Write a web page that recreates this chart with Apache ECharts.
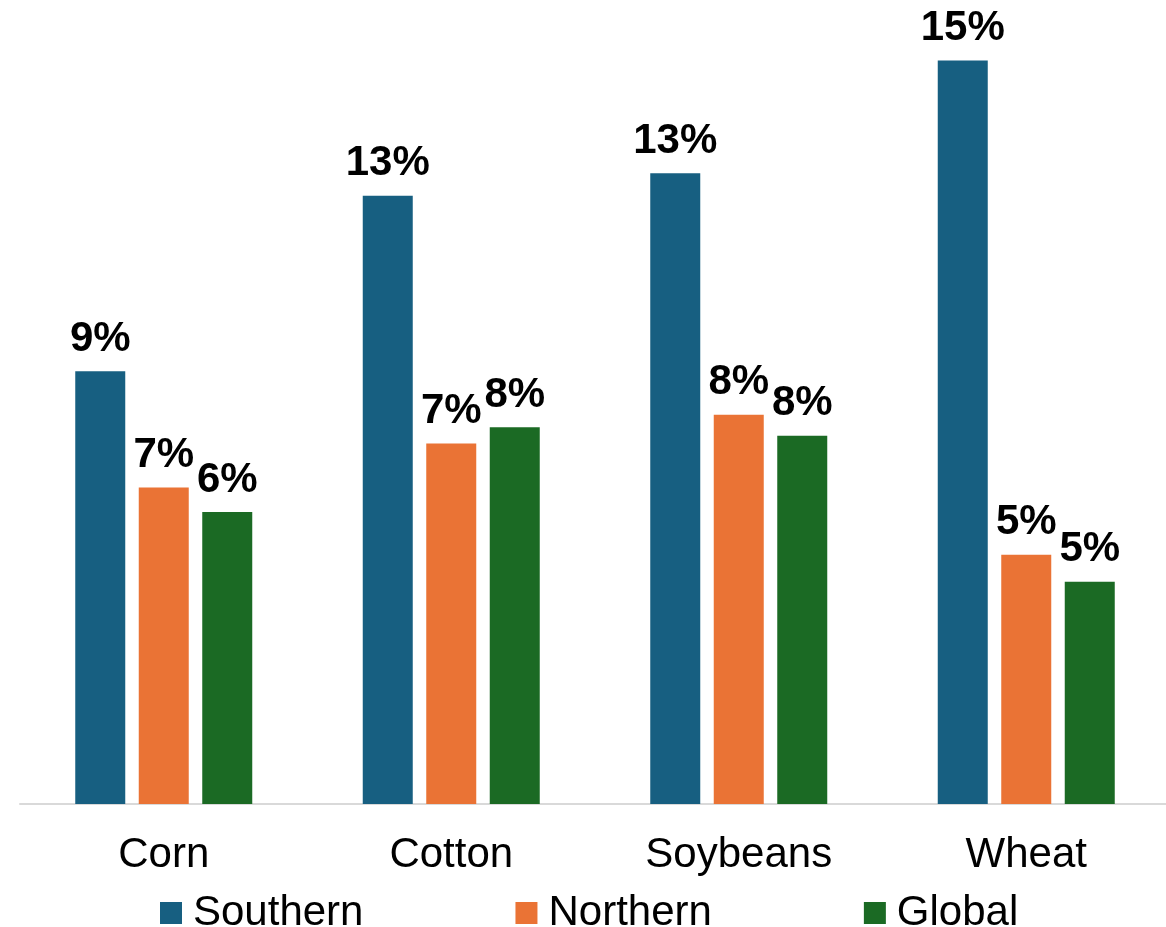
<!DOCTYPE html>
<html>
<head>
<meta charset="utf-8">
<script src="https://cdn.jsdelivr.net/npm/echarts@6/dist/echarts.min.js"></script>
<style>
html,body{margin:0;padding:0;background:#fff;overflow:hidden;width:1166px;height:927px;}
#main{width:1170px;height:927px;}
</style>
</head>
<body>
<div id="main"></div>
<script>
const categories = ['Corn', 'Cotton', 'Soybeans', 'Wheat'];
const southern = [8.98, 12.62, 13.09, 15.43];
const northern = [6.57, 7.48, 8.08, 5.17];
const globalVals = [6.06, 7.82, 7.64, 4.61];
const seriesNames = ['Southern', 'Northern', 'Global'];
const colors = ['#175f81', '#ea7335', '#1b6a24'];

const FONT = '"Liberation Sans", Arial, sans-serif';
const chart = echarts.init(document.getElementById('main'), null, {renderer: 'canvas'});

function mkSeries(name, data, color) {
  return {
    name: name,
    type: 'bar',
    data: data,
    barWidth: 50,
    barGap: '27%',
    itemStyle: {color: color},
    label: {
      show: true,
      position: 'top',
      distance: 11,
      fontFamily: FONT,
      fontSize: 42,
      fontWeight: 'bold',
      color: '#000',
      formatter: p => Math.round(p.value) + '%'
    }
  };
}

chart.setOption({
  animation: false,
  backgroundColor: '#fff',
  grid: {left: 20, right: 0, top: 33, bottom: 123, containLabel: false},
  legend: {
    data: seriesNames,
    left: 155,
    top: 887,
    itemWidth: 22,
    itemHeight: 22,
    itemGap: 152,
    icon: 'rect',
    textStyle: {fontFamily: FONT, fontSize: 42, color: '#000', padding: [0, 0, 0, 6]}
  },
  xAxis: {
    type: 'category',
    data: categories,
    axisLine: {show: true, lineStyle: {color: '#d9d9d9', width: 2}},
    axisTick: {show: false},
    axisLabel: {fontFamily: FONT, fontSize: 42, color: '#000', margin: 30}
  },
  yAxis: {
    type: 'value',
    min: 0,
    max: 16,
    show: false,
    splitLine: {show: false}
  },
  series: [
    mkSeries(seriesNames[0], southern, colors[0]),
    mkSeries(seriesNames[1], northern, colors[1]),
    mkSeries(seriesNames[2], globalVals, colors[2])
  ]
});
</script>
</body>
</html>
